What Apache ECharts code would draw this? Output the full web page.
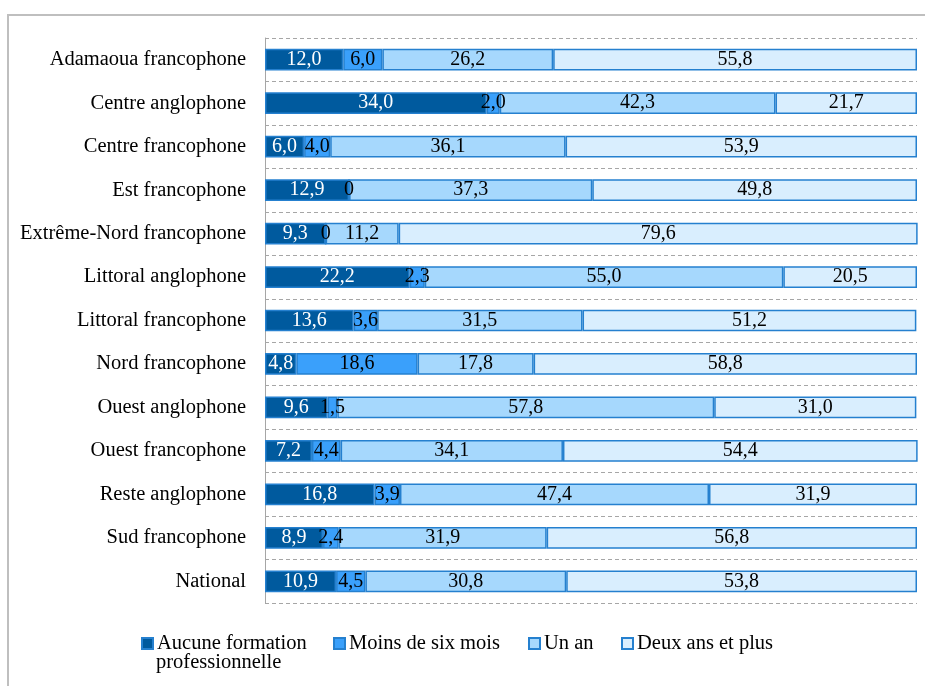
<!DOCTYPE html>
<html>
<head>
<meta charset="utf-8">
<script src="https://cdn.jsdelivr.net/npm/echarts@6/dist/echarts.min.js"></script>
<style>html,body{margin:0;padding:0;background:#fff;}#c{width:925px;height:686px;}</style>
</head>
<body>
<div id="c"></div>
<script>
const categories = ['Adamaoua francophone','Centre anglophone','Centre francophone','Est francophone','Extrême-Nord francophone','Littoral anglophone','Littoral francophone','Nord francophone','Ouest anglophone','Ouest francophone','Reste anglophone','Sud francophone','National'];
const seriesNames = ['Aucune formation professionnelle','Moins de six mois','Un an','Deux ans et plus'];
const aucune = [12.0,34.0,6.0,12.9,9.3,22.2,13.6,4.8,9.6,7.2,16.8,8.9,10.9];
const moins = [6.0,2.0,4.0,0,0,2.3,3.6,18.6,1.5,4.4,3.9,2.4,4.5];
const unAn = [26.2,42.3,36.1,37.3,11.2,55.0,31.5,17.8,57.8,34.1,47.4,31.9,30.8];
const deuxAns = [55.8,21.7,53.9,49.8,79.6,20.5,51.2,58.8,31.0,54.4,31.9,56.8,53.8];

const colors = ['#005A9E','#3AA0FB','#A6D8FD','#D9EEFE'];
const labelColors = ['#ffffff','#000000','#000000','#000000'];
const FONT = '"Liberation Serif", "Times New Roman", serif';
const fmt = v => v.value === 0 ? '0' : v.value.toFixed(1).replace('.', ',');

const dataSets = [aucune, moins, unAn, deuxAns];
const series = dataSets.map((d, i) => ({
  name: seriesNames[i],
  type: 'bar',
  stack: 'total',
  barWidth: '50%',
  data: d,
  itemStyle: { color: colors[i], borderColor: '#2580CF', borderWidth: 1.5 },
  label: { show: true, position: 'inside', formatter: fmt, color: labelColors[i], fontFamily: FONT, fontSize: 20 },
  emphasis: { disabled: true }
}));

const legendLeft = [141, 333, 528, 621];
const legends = seriesNames.map((n, i) => ({
  data: [n],
  left: legendLeft[i],
  top: 633,
  padding: 0,
  itemWidth: 11,
  itemHeight: 11,
  itemGap: 0,
  icon: 'rect',
  formatter: name => name === seriesNames[0] ? 'Aucune formation' : name,
  textStyle: { fontFamily: FONT, fontSize: 20.5, color: '#000', padding: [0,0,0,-1] },
  selectedMode: false
}));

const chart = echarts.init(document.getElementById('c'), null, { renderer: 'canvas' });
chart.setOption({
  animation: false,
  backgroundColor: '#fff',
  grid: { left: 265, right: 8, top: 38, bottom: 83, containLabel: false },
  xAxis: { type: 'value', min: 0, max: 100, show: false },
  yAxis: {
    type: 'category', data: categories, inverse: true,
    axisLine: { show: true, lineStyle: { color: '#A6A6A6', width: 1 } },
    axisTick: { show: false },
    splitLine: { show: true, lineStyle: { color: '#A6A6A6', type: [4, 3], width: 1 } },
    axisLabel: { fontFamily: FONT, fontSize: 20.5, color: '#000', margin: 19 }
  },
  legend: legends,
  series: series,
  graphic: [
    { type: 'rect', shape: { x: 8, y: 15, width: 1000, height: 1000 }, style: { fill: 'none', stroke: '#BFBFBF', lineWidth: 2 }, silent: true },
    { type: 'text', left: 156, top: 652, style: { text: 'professionnelle', font: '20.5px ' + FONT, fill: '#000' }, silent: true }
  ]
});
</script>
</body>
</html>
